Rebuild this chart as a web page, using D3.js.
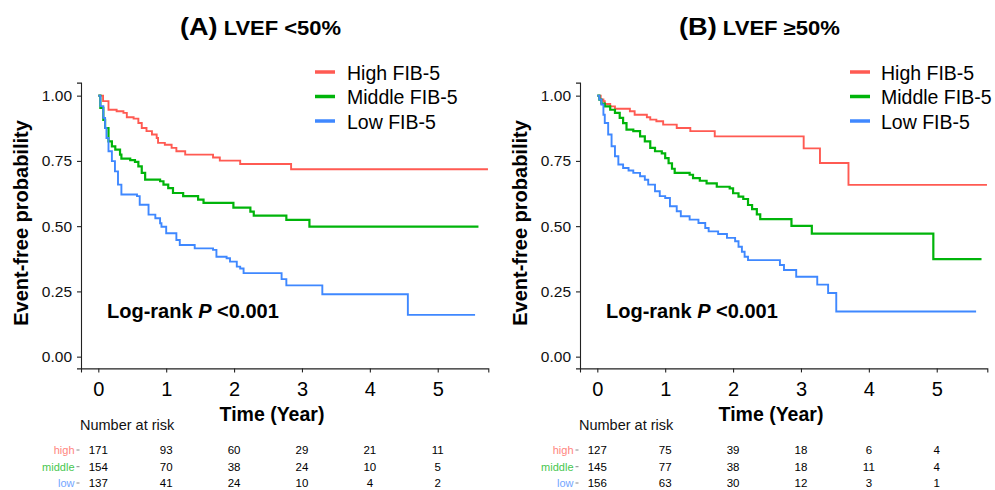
<!DOCTYPE html>
<html>
<head>
<meta charset="utf-8">
<script src="https://cdn.jsdelivr.net/npm/d3@7"></script>
<style>
  html, body { margin: 0; padding: 0; background: #fff; }
  svg { display: block; font-family: "Liberation Sans", Arial, sans-serif; }
</style>
</head>
<body>
<svg id="chart" width="995" height="490"></svg>
<script>
// ---------------- DATA ----------------
const timeTicks = [0, 1, 2, 3, 4, 5];
const probTicks = [0, 0.25, 0.5, 0.75, 1];
const groupNames = ["High FIB-5", "Middle FIB-5", "Low FIB-5"];
const riskRowLabels = ["high", "middle", "low"];
const colors = ["#FF5A52", "#00B40A", "#3F88FF"];
const panelTitles = [["(A)", " LVEF <50%"], ["(B)", " LVEF \u226550%"]];
const pText = ["Log-rank ", "P", " <0.001"];

// step points [time, survival] (drop to survival at time)
const aHigh = [[0,1],[0.07,0.979],[0.15,0.946],[0.27,0.940],[0.37,0.934],[0.42,0.917],[0.52,0.912],[0.59,0.895],[0.64,0.876],[0.71,0.864],[0.79,0.851],[0.86,0.838],[0.88,0.819],[0.98,0.812],[1.08,0.800],[1.15,0.787],[1.28,0.774],[1.69,0.763],[1.79,0.751],[2.09,0.738],[2.84,0.718]];
const aMiddle = [[0,1],[0.03,0.953],[0.074,0.907],[0.10,0.876],[0.15,0.825],[0.20,0.806],[0.25,0.793],[0.32,0.774],[0.34,0.759],[0.47,0.753],[0.54,0.746],[0.59,0.729],[0.64,0.704],[0.69,0.678],[0.91,0.672],[0.96,0.659],[1.03,0.646],[1.10,0.627],[1.25,0.615],[1.47,0.602],[1.55,0.589],[1.99,0.571],[2.24,0.556],[2.29,0.540],[2.77,0.524],[3.11,0.498]];
const aLow = [[0,1],[0.03,0.960],[0.074,0.915],[0.10,0.876],[0.12,0.838],[0.15,0.787],[0.20,0.749],[0.245,0.710],[0.29,0.659],[0.34,0.621],[0.57,0.615],[0.61,0.582],[0.74,0.544],[0.84,0.530],[0.91,0.511],[0.93,0.498],[1.00,0.473],[1.15,0.447],[1.20,0.428],[1.42,0.415],[1.69,0.409],[1.74,0.383],[1.89,0.377],[1.94,0.364],[2.04,0.345],[2.09,0.338],[2.14,0.320],[2.70,0.297],[2.77,0.273],[3.30,0.239],[4.56,0.160]];
const bHigh = [[0,1],[0.05,0.985],[0.09,0.979],[0.11,0.968],[0.19,0.959],[0.26,0.950],[0.48,0.940],[0.55,0.927],[0.73,0.917],[0.78,0.908],[0.87,0.902],[0.97,0.889],[1.17,0.876],[1.37,0.864],[1.73,0.844],[3.04,0.798],[3.28,0.742],[3.70,0.658]];
const bMiddle = [[0,1],[0.03,0.985],[0.06,0.970],[0.11,0.959],[0.19,0.946],[0.26,0.934],[0.33,0.915],[0.38,0.895],[0.43,0.870],[0.53,0.864],[0.63,0.844],[0.70,0.825],[0.78,0.800],[0.85,0.787],[0.95,0.779],[1.00,0.761],[1.05,0.741],[1.10,0.720],[1.14,0.704],[1.36,0.697],[1.41,0.684],[1.51,0.674],[1.61,0.664],[1.76,0.651],[1.95,0.645],[2.00,0.626],[2.08,0.613],[2.15,0.604],[2.22,0.581],[2.28,0.565],[2.35,0.545],[2.40,0.527],[2.86,0.501],[3.16,0.471],[4.95,0.374]];
const bLow = [[0,1],[0.03,0.985],[0.06,0.966],[0.09,0.927],[0.11,0.895],[0.16,0.851],[0.21,0.806],[0.26,0.768],[0.31,0.736],[0.38,0.723],[0.46,0.713],[0.53,0.704],[0.63,0.691],[0.70,0.678],[0.75,0.659],[0.85,0.634],[0.92,0.615],[1.00,0.608],[1.07,0.576],[1.17,0.557],[1.23,0.538],[1.36,0.525],[1.49,0.512],[1.59,0.493],[1.64,0.480],[1.78,0.470],[1.91,0.455],[2.03,0.442],[2.08,0.421],[2.13,0.402],[2.17,0.383],[2.22,0.370],[2.69,0.351],[2.75,0.332],[2.93,0.306],[3.24,0.276],[3.40,0.244],[3.52,0.173]];
const aEndTimes = [5.74, 5.60, 5.55];
const bEndTimes = [5.74, 5.66, 5.58];

const riskAHigh = [171, 93, 60, 29, 21, 11];
const riskAMiddle = [154, 70, 38, 24, 10, 5];
const riskALow = [137, 41, 24, 10, 4, 2];
const riskBHigh = [127, 75, 39, 18, 6, 4];
const riskBMiddle = [145, 77, 38, 18, 11, 4];
const riskBLow = [156, 63, 30, 12, 3, 1];

// ---------------- DRAW ----------------
const svg = d3.select("#chart");

function drawPanel(offset, title, curves, ends, risk) {
  const g = svg.append("g").attr("transform", `translate(${offset},0)`);
  const x = d3.scaleLinear().domain([-0.255, 5.745]).range([81, 488.3]);
  const y = d3.scaleLinear().domain([-0.045, 1.05]).range([368.4, 82.6]);

  // title
  const t = g.append("text").attr("x", 180).attr("y", 35)
    .attr("font-weight", "bold").attr("fill", "#000");
  t.append("tspan").attr("font-size", 24).text(title[0]);
  t.append("tspan").attr("font-size", 19.5).text(title[1]);
  t.attr("textLength", 161).attr("lengthAdjust", "spacingAndGlyphs");

  // axes
  const yAxis = d3.axisLeft(y).tickValues(probTicks).tickFormat(d3.format(".2f"))
    .tickSizeOuter(0).tickSize(4).tickPadding(5);
  const ya = g.append("g").attr("transform", "translate(81,0)").call(yAxis);
  ya.selectAll("text").attr("font-size", 15.5).attr("fill", "#111")
    .attr("font-family", "Liberation Sans, Arial, sans-serif");
  ya.selectAll("line,path").attr("stroke", "#222").attr("stroke-width", 1.1);

  const xAxis = d3.axisBottom(x).tickValues(timeTicks).tickFormat(d3.format("d"))
    .tickSizeOuter(0).tickSize(4).tickPadding(9);
  const xa = g.append("g").attr("transform", "translate(0,368.4)").call(xAxis);
  xa.selectAll("text").attr("font-size", 20).attr("fill", "#000")
    .attr("font-family", "Liberation Sans, Arial, sans-serif");
  xa.selectAll("line,path").attr("stroke", "#222").attr("stroke-width", 1.1);

  // curves
  const line = d3.line().x(d => x(d[0])).y(d => y(d[1])).curve(d3.curveStepAfter);
  curves.forEach((c, i) => {
    const pts = c.concat([[ends[i], c[c.length - 1][1]]]);
    g.append("path").datum(pts).attr("d", line)
      .attr("fill", "none").attr("stroke", colors[i])
      .attr("stroke-width", i === 1 ? 2.2 : 1.9).attr("stroke-linejoin", "miter");
  });

  // legend
  const legY = [72, 96.5, 121];
  groupNames.forEach((name, i) => {
    g.append("line").attr("x1", 315 + (offset ? 36 : 0)).attr("x2", 335 + (offset ? 36 : 0))
      .attr("y1", legY[i]).attr("y2", legY[i])
      .attr("stroke", colors[i]).attr("stroke-width", 3.5);
    g.append("text").attr("x", 347 + (offset ? 35 : 0)).attr("y", legY[i] + 7.5)
      .attr("font-size", 19.5).attr("fill", "#000").text(name);
  });

  // p-value
  const pt = g.append("text").attr("x", 107).attr("y", 317.5)
    .attr("font-size", 20).attr("font-weight", "bold").attr("fill", "#000");
  pt.append("tspan").text(pText[0]);
  pt.append("tspan").attr("font-style", "italic").text(pText[1]);
  pt.append("tspan").text(pText[2]);

  // axis titles
  g.append("text").attr("transform", "translate(27.5,223) rotate(-90)")
    .attr("text-anchor", "middle").attr("font-size", 20).attr("font-weight", "bold")
    .attr("fill", "#000").text("Event-free probability");
  g.append("text").attr("x", 272).attr("y", 420.5).attr("text-anchor", "middle")
    .attr("font-size", 19.5).attr("font-weight", "bold").attr("fill", "#000").text("Time (Year)");

  // risk table
  g.append("text").attr("x", 80).attr("y", 429.5).attr("font-size", 14.5)
    .attr("fill", "#111").text("Number at risk");
  const rowY = [454, 470.7, 487];
  risk.forEach((row, i) => {
    g.append("text").attr("x", 74.5).attr("y", rowY[i]).attr("text-anchor", "end")
      .attr("font-size", 11).attr("fill", colors[i]).attr("opacity", 0.75).text(riskRowLabels[i]);
    g.append("line").attr("x1", 76.5).attr("x2", 79.5).attr("y1", rowY[i] - 4).attr("y2", rowY[i] - 4)
      .attr("stroke", "#888").attr("stroke-width", 1);
    g.selectAll(null).data(row).enter().append("text")
      .attr("x", (d, j) => x(timeTicks[j])).attr("y", rowY[i])
      .attr("text-anchor", "middle").attr("font-size", 11.5).attr("fill", "#000")
      .text(d => d);
  });
}

drawPanel(0, panelTitles[0], [aHigh, aMiddle, aLow], aEndTimes, [riskAHigh, riskAMiddle, riskALow]);
drawPanel(499, panelTitles[1], [bHigh, bMiddle, bLow], bEndTimes, [riskBHigh, riskBMiddle, riskBLow]);
</script>
</body>
</html>
